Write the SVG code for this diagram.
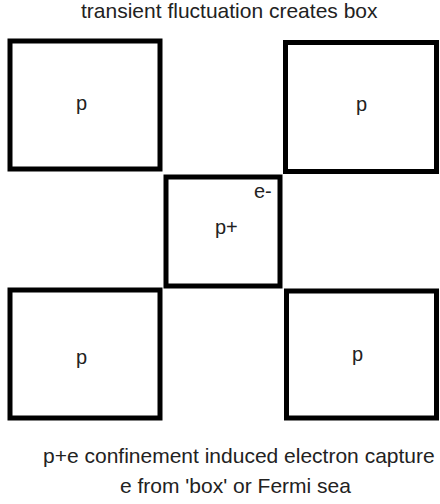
<svg xmlns="http://www.w3.org/2000/svg" width="440" height="504" viewBox="0 0 440 504">
<style>
.box{fill:#fff;stroke:#000;stroke-width:5}
.t{font-family:"Liberation Sans",Arial,sans-serif;font-size:21px;fill:#222}
.l{font-family:"Liberation Sans",Arial,sans-serif;font-size:20px;fill:#222}
</style>
<rect width="440" height="504" fill="#fff"/>
<text class="t" x="81" y="18">transient fluctuation creates box</text>
<g id="box-top-left">
<rect class="box" x="10" y="41" width="150" height="128"/>
<text class="l" x="76" y="110">p</text>
</g>
<g id="box-top-right">
<rect class="box" x="285.5" y="42.5" width="151" height="129"/>
<text class="l" x="356" y="111">p</text>
</g>
<g id="box-center">
<rect class="box" x="166" y="177" width="114" height="109"/>
<text class="l" x="215" y="234">p+</text>
<text class="l" x="254" y="198">e-</text>
</g>
<g id="box-bottom-left">
<rect class="box" x="10" y="290" width="150" height="128"/>
<text class="l" x="76" y="364">p</text>
</g>
<g id="box-bottom-right">
<rect class="box" x="286.5" y="291" width="150" height="127"/>
<text class="l" x="352" y="361">p</text>
</g>
<g id="connectors"></g>
<text class="t" x="43" y="463">p+e confinement induced electron capture</text>
<text class="t" x="120" y="493">e from 'box' or Fermi sea</text>
</svg>
